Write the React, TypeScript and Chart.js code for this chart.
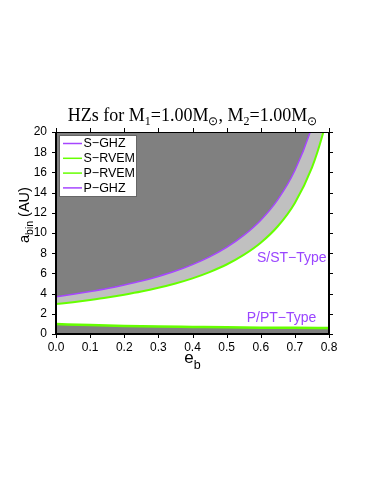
import React, { useEffect, useRef } from "react";
import { Chart, registerables } from "chart.js";
Chart.register(...registerables);

// S-type boundaries (binary semi-major axis vs. binary eccentricity)
const eS = [0, 0.05, 0.1, 0.15, 0.2, 0.25, 0.3, 0.35, 0.4, 0.45, 0.5, 0.55, 0.6, 0.65, 0.7, 0.75, 0.78, 0.8];
const sGHZ = [3.69, 3.93, 4.2, 4.5, 4.85, 5.24, 5.7, 6.23, 6.87, 7.64, 8.58, 9.76, 11.27, 13.31, 16.19, 20.53, 24.4, 27.9];
const sRVEM = [2.96, 3.15, 3.37, 3.61, 3.89, 4.2, 4.57, 5.0, 5.51, 6.13, 6.88, 7.83, 9.04, 10.67, 12.98, 16.47, 19.57, 22.35];

// P-type boundaries
const eP = [0, 0.1, 0.2, 0.3, 0.4, 0.5, 0.6, 0.7, 0.8];
const pRVEM = [0.99, 0.88, 0.8, 0.74, 0.7, 0.66, 0.63, 0.61, 0.6];
const pGHZ = [0.95, 0.84, 0.77, 0.71, 0.67, 0.63, 0.6, 0.58, 0.57];

const legendLabels = ["S\u2212GHZ", "S\u2212RVEM", "P\u2212RVEM", "P\u2212GHZ"];
const regionLabels = ["S/ST\u2212Type", "P/PT\u2212Type"];
const titleParts: [string, number][] = [
  ["HZs for M", 0], ["1", 1], ["=1.00M", 0], ["\u2299", 1],
  [", M", 0], ["2", 1], ["=1.00M", 0], ["\u2299", 1],
];

const PURPLE = "#a646ff";
const GREEN = "#66ff00";
const DARK = "#808080";
const LIGHT = "#c0c0c0";
const TEXT_PURPLE = "#9a45ff";
const SANS = "'Liberation Sans', Arial, sans-serif";
const SERIF = "'Liberation Serif', 'Times New Roman', serif";

const toPts = (xs: number[], ys: number[]) => xs.map((x, i) => ({ x, y: ys[i] }));

const decorPlugin = {
  id: "decor",
  afterDraw(chart: any) {
    const ctx = chart.ctx as CanvasRenderingContext2D;
    const { left, right, top, bottom } = chart.chartArea;
    const xs = chart.scales.x;
    const ys = chart.scales.y;
    ctx.save();
    // frame
    ctx.strokeStyle = "#000";
    ctx.lineWidth = 2;
    ctx.beginPath();
    ctx.moveTo(left, top);
    ctx.lineTo(left, bottom);
    ctx.lineTo(right, bottom);
    ctx.lineTo(right, top);
    ctx.stroke();
    ctx.lineWidth = 1;
    ctx.beginPath();
    ctx.moveTo(left, top + 0.5);
    ctx.lineTo(right, top + 0.5);
    ctx.stroke();
    // ticks
    ctx.lineWidth = 1;
    ctx.beginPath();
    ys.ticks.forEach((t: any) => {
      const py = Math.round(ys.getPixelForValue(t.value)) + 0.5;
      ctx.moveTo(left - 4, py);
      ctx.lineTo(left, py);
      ctx.moveTo(right, py);
      ctx.lineTo(right + 4, py);
    });
    xs.ticks.forEach((t: any) => {
      const px = Math.round(xs.getPixelForValue(t.value)) + 0.5;
      ctx.moveTo(px, bottom);
      ctx.lineTo(px, bottom + 4);
      ctx.moveTo(px, top - 4);
      ctx.lineTo(px, top);
    });
    ctx.stroke();

    // legend
    const lx = left + 3.5, ly = top + 3.5, lw = 77, lh = 61;
    ctx.fillStyle = "#fff";
    ctx.fillRect(lx, ly, lw, lh);
    ctx.strokeStyle = "#666";
    ctx.lineWidth = 1;
    ctx.strokeRect(lx, ly, lw, lh);
    const colors = [PURPLE, GREEN, GREEN, PURPLE];
    ctx.font = `12.5px ${SANS}`;
    ctx.textBaseline = "middle";
    ctx.textAlign = "left";
    legendLabels.forEach((lab, i) => {
      const yy = ly + 8 + i * 14.8;
      ctx.strokeStyle = colors[i];
      ctx.lineWidth = 1.5;
      ctx.beginPath();
      ctx.moveTo(lx + 3.5, yy);
      ctx.lineTo(lx + 22.5, yy);
      ctx.stroke();
      ctx.fillStyle = "#000";
      ctx.fillText(lab, lx + 24, yy + 0.5);
    });

    // region labels
    ctx.fillStyle = TEXT_PURPLE;
    ctx.font = `14px ${SANS}`;
    ctx.textAlign = "right";
    ctx.fillText(regionLabels[0], xs.getPixelForValue(0.793), ys.getPixelForValue(7.5));
    ctx.fillText(regionLabels[1], xs.getPixelForValue(0.763), ys.getPixelForValue(1.58));

    // title
    ctx.fillStyle = "#000";
    ctx.textAlign = "left";
    ctx.textBaseline = "alphabetic";
    const fMain = `18px ${SERIF}`;
    const fSub = `12px ${SERIF}`;
    let total = 0;
    titleParts.forEach(([s, sub]) => {
      ctx.font = sub ? fSub : fMain;
      total += ctx.measureText(s).width;
    });
    let tx = (left + right) / 2 - total / 2;
    const tBase = top - 11;
    titleParts.forEach(([s, sub]) => {
      ctx.font = sub ? fSub : fMain;
      ctx.fillText(s, tx, tBase + (sub ? 4 : 0));
      tx += ctx.measureText(s).width;
    });

    // x axis title: e_b
    ctx.font = `17px ${SANS}`;
    const we = ctx.measureText("e").width;
    ctx.font = `12.5px ${SANS}`;
    const wb = ctx.measureText("b").width;
    let ex = (left + right) / 2 - (we + wb) / 2;
    const eBase = bottom + 29;
    ctx.font = `17px ${SANS}`;
    ctx.fillText("e", ex, eBase);
    ctx.font = `12.5px ${SANS}`;
    ctx.fillText("b", ex + we, eBase + 6);

    // y axis title: a_bin (AU)
    ctx.translate(29, bottom - 91);
    ctx.rotate(-Math.PI / 2);
    let ax = 0;
    ctx.font = `14.5px ${SANS}`;
    ctx.fillText("a", ax, 0);
    ax += ctx.measureText("a").width;
    ctx.font = `10.5px ${SANS}`;
    ctx.fillText("bin", ax, 3.5);
    ax += ctx.measureText("bin").width;
    ctx.font = `14.5px ${SANS}`;
    ctx.fillText(" (AU)", ax, 0);
    ctx.restore();
  },
};

export default function App() {
  const ref = useRef<HTMLCanvasElement | null>(null);
  useEffect(() => {
    if (!ref.current) return;
    const chart = new Chart(ref.current, {
      type: "line",
      data: {
        datasets: [
          {
            label: legendLabels[0],
            data: toPts(eS, sGHZ),
            borderColor: PURPLE,
            borderWidth: 1.5,
            backgroundColor: DARK,
            fill: "end",
            pointRadius: 0,
            cubicInterpolationMode: "monotone",
          },
          {
            label: legendLabels[1],
            data: toPts(eS, sRVEM),
            borderColor: GREEN,
            borderWidth: 2,
            backgroundColor: LIGHT,
            fill: "-1",
            pointRadius: 0,
            cubicInterpolationMode: "monotone",
          },
          {
            label: legendLabels[2],
            data: toPts(eP, pRVEM),
            borderColor: GREEN,
            borderWidth: 2.5,
            backgroundColor: DARK,
            fill: "origin",
            pointRadius: 0,
            cubicInterpolationMode: "monotone",
          },
          {
            label: legendLabels[3],
            data: toPts(eP, pGHZ),
            borderColor: PURPLE,
            borderWidth: 1.5,
            fill: false,
            pointRadius: 0,
            cubicInterpolationMode: "monotone",
          },
        ],
      },
      options: {
        responsive: false,
        animation: false,
        layout: { padding: { left: 0, right: 45, top: 132, bottom: 0 } },
        plugins: {
          legend: { display: false },
          title: { display: false },
          tooltip: { enabled: false },
        },
        scales: {
          x: {
            type: "linear",
            min: 0,
            max: 0.8,
            grid: { display: false, drawTicks: false },
            border: { display: false },
            ticks: {
              stepSize: 0.1,
              padding: 6,
              color: "#000",
              font: { family: SANS, size: 12 },
              callback: (v: any) => Number(v).toFixed(1),
            },
            afterFit: (s: any) => {
              s.height = 150;
            },
          },
          y: {
            type: "linear",
            min: 0,
            max: 20,
            grid: { display: false, drawTicks: false },
            border: { display: false },
            ticks: {
              stepSize: 2,
              padding: 9,
              color: "#000",
              font: { family: SANS, size: 12 },
            },
            afterFit: (s: any) => {
              s.width = 56;
            },
          },
        },
      },
      plugins: [decorPlugin],
    } as any);
    return () => chart.destroy();
  }, []);
  return (
    <canvas
      ref={ref}
      width={374}
      height={484}
      style={{ position: "absolute", left: 0, top: 0, display: "block" }}
    />
  );
}
